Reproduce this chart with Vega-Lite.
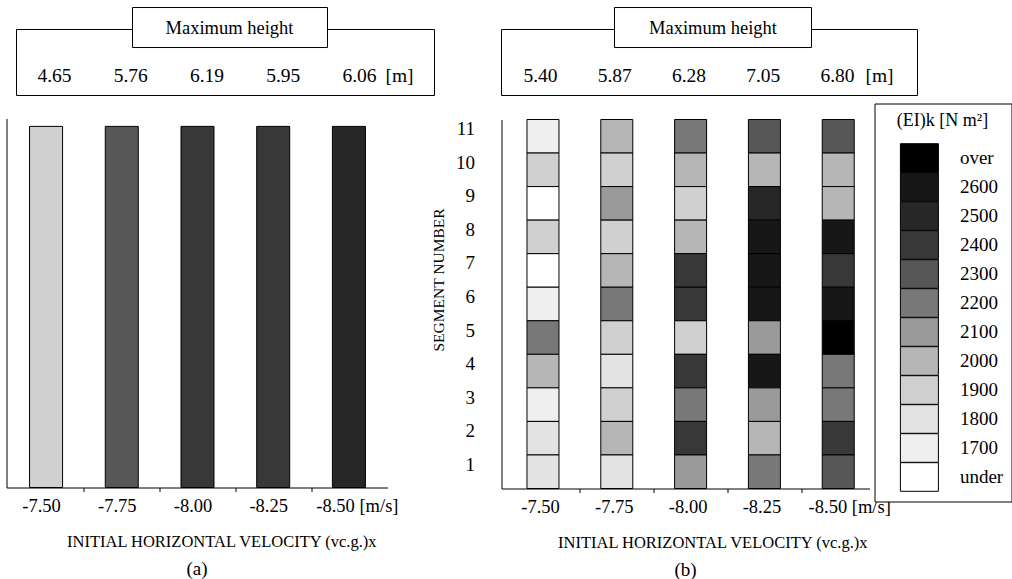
{
  "$schema": "https://vega.github.io/schema/vega-lite/v6.json",
  "padding": {"left": 6.5, "top": 6.5, "right": 2, "bottom": 0},
  "config": {
    "font": "Liberation Serif",
    "view": {"stroke": null},
    "axis": {"domainColor": "black", "tickColor": "black", "labelColor": "black", "titleColor": "black", "grid": false, "labelFont": "Liberation Serif", "titleFont": "Liberation Serif", "titleFontWeight": "normal"},
    "title": {"font": "Liberation Serif", "fontWeight": "normal", "color": "black"},
    "text": {"font": "Liberation Serif", "color": "black"}
  },
  "datasets": {
    "beamsA": [
      {"v": -7.5, "EI": "1900", "segments": 11},
      {"v": -7.75, "EI": "2300", "segments": 11},
      {"v": -8.0, "EI": "2400", "segments": 11},
      {"v": -8.25, "EI": "2400", "segments": 11},
      {"v": -8.5, "EI": "2500", "segments": 11}
    ],
    "heightA": [
      {"v": -7.5, "h": "4.65"},
      {"v": -7.75, "h": "5.76"},
      {"v": -8.0, "h": "6.19"},
      {"v": -8.25, "h": "5.95"},
      {"v": -8.5, "h": "6.06"}
    ],
    "heightB": [
      {"v": -7.5, "h": "5.40"},
      {"v": -7.75, "h": "5.87"},
      {"v": -8.0, "h": "6.28"},
      {"v": -8.25, "h": "7.05"},
      {"v": -8.5, "h": "6.80"}
    ],
    "cellsB": [
      {"v": -7.5, "seg": 11, "EI": "1700"},
      {"v": -7.5, "seg": 10, "EI": "1900"},
      {"v": -7.5, "seg": 9, "EI": "under"},
      {"v": -7.5, "seg": 8, "EI": "1900"},
      {"v": -7.5, "seg": 7, "EI": "under"},
      {"v": -7.5, "seg": 6, "EI": "1700"},
      {"v": -7.5, "seg": 5, "EI": "2200"},
      {"v": -7.5, "seg": 4, "EI": "2000"},
      {"v": -7.5, "seg": 3, "EI": "1700"},
      {"v": -7.5, "seg": 2, "EI": "1800"},
      {"v": -7.5, "seg": 1, "EI": "1800"},
      {"v": -7.75, "seg": 11, "EI": "2000"},
      {"v": -7.75, "seg": 10, "EI": "1900"},
      {"v": -7.75, "seg": 9, "EI": "2100"},
      {"v": -7.75, "seg": 8, "EI": "1900"},
      {"v": -7.75, "seg": 7, "EI": "2000"},
      {"v": -7.75, "seg": 6, "EI": "2200"},
      {"v": -7.75, "seg": 5, "EI": "1900"},
      {"v": -7.75, "seg": 4, "EI": "1800"},
      {"v": -7.75, "seg": 3, "EI": "1900"},
      {"v": -7.75, "seg": 2, "EI": "2000"},
      {"v": -7.75, "seg": 1, "EI": "1800"},
      {"v": -8.0, "seg": 11, "EI": "2200"},
      {"v": -8.0, "seg": 10, "EI": "2000"},
      {"v": -8.0, "seg": 9, "EI": "1900"},
      {"v": -8.0, "seg": 8, "EI": "2000"},
      {"v": -8.0, "seg": 7, "EI": "2400"},
      {"v": -8.0, "seg": 6, "EI": "2400"},
      {"v": -8.0, "seg": 5, "EI": "1900"},
      {"v": -8.0, "seg": 4, "EI": "2400"},
      {"v": -8.0, "seg": 3, "EI": "2200"},
      {"v": -8.0, "seg": 2, "EI": "2400"},
      {"v": -8.0, "seg": 1, "EI": "2100"},
      {"v": -8.25, "seg": 11, "EI": "2300"},
      {"v": -8.25, "seg": 10, "EI": "2000"},
      {"v": -8.25, "seg": 9, "EI": "2500"},
      {"v": -8.25, "seg": 8, "EI": "2600"},
      {"v": -8.25, "seg": 7, "EI": "2600"},
      {"v": -8.25, "seg": 6, "EI": "2600"},
      {"v": -8.25, "seg": 5, "EI": "2100"},
      {"v": -8.25, "seg": 4, "EI": "2600"},
      {"v": -8.25, "seg": 3, "EI": "2100"},
      {"v": -8.25, "seg": 2, "EI": "2000"},
      {"v": -8.25, "seg": 1, "EI": "2200"},
      {"v": -8.5, "seg": 11, "EI": "2300"},
      {"v": -8.5, "seg": 10, "EI": "2000"},
      {"v": -8.5, "seg": 9, "EI": "2000"},
      {"v": -8.5, "seg": 8, "EI": "2600"},
      {"v": -8.5, "seg": 7, "EI": "2400"},
      {"v": -8.5, "seg": 6, "EI": "2600"},
      {"v": -8.5, "seg": 5, "EI": "over"},
      {"v": -8.5, "seg": 4, "EI": "2200"},
      {"v": -8.5, "seg": 3, "EI": "2200"},
      {"v": -8.5, "seg": 2, "EI": "2400"},
      {"v": -8.5, "seg": 1, "EI": "2300"}
    ]
  },
  "resolve": {"scale": {"color": "independent"}, "legend": {"color": "independent"}},
  "spacing": -4,
  "hconcat": [
    {
      "spacing": 22,
      "resolve": {"scale": {"color": "independent", "x": "independent", "y": "independent"}, "legend": {"color": "independent"}},
      "vconcat": [
        {
          "width": 428,
          "height": 66,
          "layer": [
            {
              "data": {"values": [{}]},
              "mark": {"type": "rect", "fillOpacity": 0, "stroke": "black", "strokeWidth": 1},
              "encoding": {
                "x": {"datum": -7.37541, "type": "quantitative", "scale": {"domain": [-8.7459, -7.34262], "reverse": true, "zero": false, "nice": false}, "axis": null},
                "x2": {"datum": -8.7459},
                "y": {"datum": 0, "type": "quantitative", "scale": {"domain": [0, 1], "zero": false, "nice": false}, "axis": null},
                "y2": {"datum": 1}
              }
            },
            {
              "data": {"values": [{}]},
              "mark": {"type": "rect", "fill": "white", "stroke": "black", "strokeWidth": 1},
              "encoding": {
                "x": {"datum": -7.75574, "type": "quantitative", "scale": {"domain": [-8.7459, -7.34262], "reverse": true, "zero": false, "nice": false}, "axis": null},
                "x2": {"datum": -8.39508},
                "y": {"datum": 1.333, "type": "quantitative", "scale": {"domain": [0, 1], "zero": false, "nice": false}, "axis": null},
                "y2": {"datum": 0.727}
              }
            },
            {
              "data": {"values": [{"label": "Maximum height"}]},
              "mark": {"type": "text", "fontSize": 18.5, "align": "center", "baseline": "middle"},
              "encoding": {
                "x": {"datum": -8.07377, "type": "quantitative", "scale": {"domain": [-8.7459, -7.34262], "reverse": true, "zero": false, "nice": false}, "axis": null},
                "y": {"datum": 1.03, "type": "quantitative", "scale": {"domain": [0, 1], "zero": false, "nice": false}, "axis": null},
                "text": {"field": "label"}
              }
            },
            {
              "data": {"name": "heightA"},
              "mark": {"type": "text", "fontSize": 19.5, "align": "center", "baseline": "middle"},
              "encoding": {
                "x": {"field": "v", "type": "quantitative", "scale": {"domain": [-8.7459, -7.34262], "reverse": true, "zero": false, "nice": false}, "axis": null},
                "y": {"datum": 0.303, "type": "quantitative", "scale": {"domain": [0, 1], "zero": false, "nice": false}, "axis": null},
                "text": {"field": "h"}
              }
            },
            {
              "data": {"values": [{"unit": "[m]"}]},
              "mark": {"type": "text", "fontSize": 19.5, "align": "center", "baseline": "middle"},
              "encoding": {
                "x": {"datum": -8.63115, "type": "quantitative", "scale": {"domain": [-8.7459, -7.34262], "reverse": true, "zero": false, "nice": false}, "axis": null},
                "y": {"datum": 0.303, "type": "quantitative", "scale": {"domain": [0, 1], "zero": false, "nice": false}, "axis": null},
                "text": {"field": "unit"}
              }
            }
          ]
        },
        {
          "width": 381,
          "height": 369,
          "data": {"name": "beamsA"},
          "mark": {"type": "bar", "orient": "vertical", "width": 33, "stroke": "black", "strokeWidth": 1},
          "encoding": {
            "x": {
              "field": "v", "type": "quantitative",
              "scale": {"domain": [-8.61093, -7.38585], "reverse": true, "zero": false, "nice": false},
              "axis": {
                "values": [-7.5, -7.625, -7.75, -7.875, -8, -8.125, -8.25, -8.375, -8.5],
                "labelExpr": "abs(datum.value*4 - round(datum.value*4)) < 0.01 ? ('-' + format(abs(datum.value), '.2f') + (datum.value < -8.4 ? ' [m/s]' : '')) : ''",
                "tickOpacity": {"condition": {"test": "abs(datum.value*4 - round(datum.value*4)) < 0.01", "value": 0}, "value": 1},
                "labelOffset": {"condition": {"test": "datum.value < -8.4", "value": 8}, "value": -5},
                "tickSize": 4, "labelPadding": 5, "labelFontSize": 18.5, "labelAngle": 0, "labelOverlap": false, "labelFlush": false,
                "title": "INITIAL HORIZONTAL VELOCITY (vc.g.)x", "titleFontSize": 16.5, "titleX": 60, "titleY": 46, "titleAlign": "left", "titleBaseline": "top"
              }
            },
            "y": {
              "field": "segments", "type": "quantitative",
              "scale": {"domain": [0, 11.24], "nice": false},
              "axis": {"title": null, "labels": false, "ticks": false, "grid": false}
            },
            "color": {
              "field": "EI", "type": "nominal",
              "scale": {"domain": ["over", "2600", "2500", "2400", "2300", "2200", "2100", "2000", "1900", "1800", "1700", "under"], "range": ["#000000", "#171717", "#272727", "#383838", "#575757", "#787878", "#9a9a9a", "#b6b6b6", "#d0d0d0", "#e3e3e3", "#efefef", "#ffffff"]},
              "legend": null
            }
          },
          "title": {"text": "(a)", "orient": "bottom", "fontSize": 19, "offset": 10, "anchor": "middle"}
        }
      ]
    },
    {
      "spacing": 6,
      "resolve": {"scale": {"color": "independent", "x": "independent", "y": "independent"}, "legend": {"color": "independent"}},
      "vconcat": [
        {
          "width": 416,
          "height": 66,
          "layer": [
            {
              "data": {"values": [{}]},
              "mark": {"type": "rect", "fillOpacity": 0, "stroke": "black", "strokeWidth": 1},
              "encoding": {
                "x": {"datum": -7.36869, "type": "quantitative", "scale": {"domain": [-8.76936, -7.36869], "reverse": true, "zero": false, "nice": false}, "axis": null},
                "x2": {"datum": -8.76936},
                "y": {"datum": 0, "type": "quantitative", "scale": {"domain": [0, 1], "zero": false, "nice": false}, "axis": null},
                "y2": {"datum": 1}
              }
            },
            {
              "data": {"values": [{}]},
              "mark": {"type": "rect", "fill": "white", "stroke": "black", "strokeWidth": 1},
              "encoding": {
                "x": {"datum": -7.74916, "type": "quantitative", "scale": {"domain": [-8.76936, -7.36869], "reverse": true, "zero": false, "nice": false}, "axis": null},
                "x2": {"datum": -8.41246},
                "y": {"datum": 1.333, "type": "quantitative", "scale": {"domain": [0, 1], "zero": false, "nice": false}, "axis": null},
                "y2": {"datum": 0.727}
              }
            },
            {
              "data": {"values": [{"label": "Maximum height"}]},
              "mark": {"type": "text", "fontSize": 18.5, "align": "center", "baseline": "middle"},
              "encoding": {
                "x": {"datum": -8.08081, "type": "quantitative", "scale": {"domain": [-8.76936, -7.36869], "reverse": true, "zero": false, "nice": false}, "axis": null},
                "y": {"datum": 1.03, "type": "quantitative", "scale": {"domain": [0, 1], "zero": false, "nice": false}, "axis": null},
                "text": {"field": "label"}
              }
            },
            {
              "data": {"name": "heightB"},
              "mark": {"type": "text", "fontSize": 19.5, "align": "center", "baseline": "middle"},
              "encoding": {
                "x": {"field": "v", "type": "quantitative", "scale": {"domain": [-8.76936, -7.36869], "reverse": true, "zero": false, "nice": false}, "axis": null},
                "y": {"datum": 0.303, "type": "quantitative", "scale": {"domain": [0, 1], "zero": false, "nice": false}, "axis": null},
                "text": {"field": "h"}
              }
            },
            {
              "data": {"values": [{"unit": "[m]"}]},
              "mark": {"type": "text", "fontSize": 19.5, "align": "center", "baseline": "middle"},
              "encoding": {
                "x": {"datum": -8.64141, "type": "quantitative", "scale": {"domain": [-8.76936, -7.36869], "reverse": true, "zero": false, "nice": false}, "axis": null},
                "y": {"datum": 0.303, "type": "quantitative", "scale": {"domain": [0, 1], "zero": false, "nice": false}, "axis": null},
                "text": {"field": "unit"}
              }
            }
          ]
        },
        {
          "width": 368,
          "height": 369,
          "data": {"name": "cellsB"},
          "mark": {"type": "bar", "orient": "vertical", "width": 32, "stroke": "black", "strokeWidth": 1},
          "encoding": {
            "x": {
              "field": "v", "type": "quantitative",
              "scale": {"domain": [-8.58896, -7.37644], "reverse": true, "zero": false, "nice": false},
              "axis": {
                "values": [-7.5, -7.625, -7.75, -7.875, -8, -8.125, -8.25, -8.375, -8.5],
                "labelExpr": "abs(datum.value*4 - round(datum.value*4)) < 0.01 ? ('-' + format(abs(datum.value), '.2f') + (datum.value < -8.4 ? ' [m/s]' : '')) : ''",
                "tickOpacity": {"condition": {"test": "abs(datum.value*4 - round(datum.value*4)) < 0.01", "value": 0}, "value": 1},
                "labelOffset": {"condition": {"test": "datum.value < -8.4", "value": 11}, "value": -3},
                "tickSize": 4, "labelPadding": 5, "labelFontSize": 18.5, "labelAngle": 0, "labelOverlap": false, "labelFlush": false,
                "title": "INITIAL HORIZONTAL VELOCITY (vc.g.)x", "titleFontSize": 16.5, "titleX": 56, "titleY": 46, "titleAlign": "left", "titleBaseline": "top"
              }
            },
            "y": {
              "field": "seg", "type": "ordinal", "sort": "descending",
              "scale": {"paddingInner": 0, "paddingOuter": 0},
              "axis": {
                "title": "SEGMENT NUMBER", "titleFontSize": 15.5, "titleX": -55, "titleY": 160, "titleAngle": 270, "titleBaseline": "bottom", "titleAlign": "center",
                "ticks": false, "tickSize": 0, "labelPadding": 27, "labelOffset": -7, "labelFontSize": 19, "labelAlign": "right", "labelAngle": 0
              }
            },
            "color": {
              "field": "EI", "type": "nominal",
              "scale": {"domain": ["over", "2600", "2500", "2400", "2300", "2200", "2100", "2000", "1900", "1800", "1700", "under"], "range": ["#000000", "#171717", "#272727", "#383838", "#575757", "#787878", "#9a9a9a", "#b6b6b6", "#d0d0d0", "#e3e3e3", "#efefef", "#ffffff"]},
              "legend": {
                "title": "(EI)k [N m²]", "orient": "none", "legendX": 373, "legendY": -16, "padding": 8,
                "strokeColor": "black", "fillColor": "white",
                "titleFontSize": 18, "titleFont": "Liberation Serif", "titleFontWeight": "normal", "titleColor": "black", "titleAnchor": "middle", "titleAlign": "center", "titlePadding": 16,
                "labelFontSize": 19, "labelFont": "Liberation Serif", "labelColor": "black", "labelBaseline": "middle", "labelOffset": 28,
                "symbolType": "M-1.638,-1.233H1.638V1.233H-1.638Z", "symbolSize": 538, "symbolStrokeColor": "black", "symbolStrokeWidth": 1, "symbolOffset": 24.4, "rowPadding": -4.4
              }
            }
          },
          "title": {"text": "(b)", "orient": "bottom", "fontSize": 19, "offset": 10, "anchor": "middle"}
        }
      ]
    }
  ]
}
